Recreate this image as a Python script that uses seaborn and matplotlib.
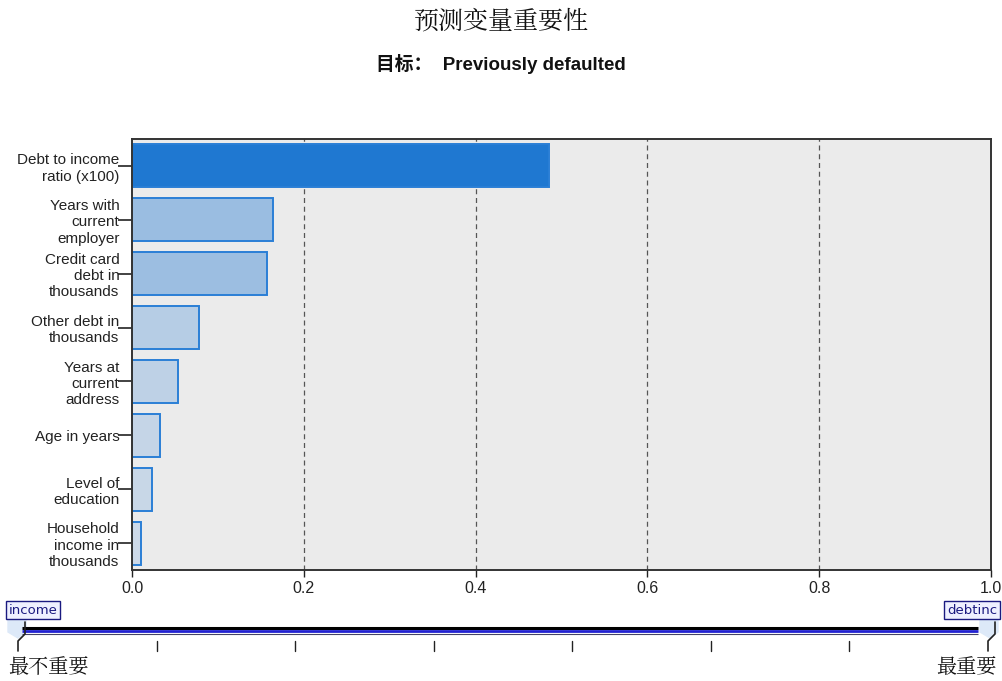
import numpy as np
import pandas as pd
import seaborn as sns
import matplotlib.pyplot as plt
from matplotlib.colors import to_rgb

# Predictor importance values
predictors = ['Debt to income\nratio (x100)', 'Years with\ncurrent\nemployer',
              'Credit card\ndebt in\nthousands', 'Other debt in\nthousands',
              'Years at\ncurrent\naddress', 'Age in years', 'Level of\neducation',
              'Household\nincome in\nthousands']
importance = [0.486, 0.164, 0.157, 0.078, 0.054, 0.033, 0.023, 0.011]
x_ticks = [0.0, 0.2, 0.4, 0.6, 0.8, 1.0]
least_name = 'income'
most_name = 'debtinc'

df = pd.DataFrame({'predictor': predictors, 'importance': importance})

sns.set_style('white')
plt.rcParams['font.family'] = ['Liberation Sans', 'Noto Sans CJK SC', 'DejaVu Sans']

fig = plt.figure(figsize=(10.02, 6.81), dpi=100)
ax = fig.add_axes([132 / 1002, 1 - 570 / 681, 859 / 1002, 431 / 681])

# bar colours: top bar strong blue, others fade with importance
dark = np.array(to_rgb('#1f78d1'))
light = np.array(to_rgb('#d0dbe8'))
mid = np.array(to_rgb('#9abde1'))
colors = []
for i, v in enumerate(importance):
    if i == 0:
        colors.append(dark)
    else:
        t = v / importance[1]
        colors.append(light + (mid - light) * t)

sns.barplot(data=df, y='predictor', x='importance', hue='predictor',
            palette=[tuple(c) for c in colors], legend=False, ax=ax,
            width=0.8, edgecolor='#2a7fd6', linewidth=1.4, orient='h',
            saturation=1)

ax.set_facecolor('#ebebeb')
ax.set_xlim(0, 1.0)
ax.set_ylim(7.5, -0.5)
ax.set_xticks(x_ticks)
ax.set_xticklabels([f'{t:.1f}' for t in x_ticks], fontsize=11.5, color='#222222')
for t in x_ticks[1:-1]:
    ax.axvline(t, color='#555555', linestyle=(0, (4, 3)), linewidth=0.9, zorder=0.5)
ax.set_axisbelow(True)
ax.set_xlabel('')
ax.set_ylabel('')
ax.tick_params(axis='y', length=10, width=1.2, color='#222222', pad=-1,
               labelsize=11, labelcolor='#222222', left=True)
ax.tick_params(axis='x', length=5, width=1, color='#222222', pad=3, bottom=True)
for lab in ax.get_yticklabels():
    lab.set_multialignment('right')
    lab.set_linespacing(1.2)
for s in ax.spines.values():
    s.set_color('#333333')
    s.set_linewidth(1.4)

fig.text(0.5, 1 - 21 / 681, '预测变量重要性', ha='center', va='center',
         fontsize=18, family=['Noto Serif CJK SC', 'Noto Sans CJK SC'], color='#111111')
fig.text(0.5, 1 - 64 / 681, '目标：  Previously defaulted', ha='center', va='center',
         fontsize=13.5, fontweight='bold',
         family=['Liberation Sans', 'Noto Sans CJK SC'], color='#111111')

# importance slider at the bottom
sax = fig.add_axes([0, 0, 1, 1], facecolor='none')
sax.set_xlim(0, 1002)
sax.set_ylim(681, 0)
sax.axis('off')
left_x, right_x = 18, 988
sax.plot([22, 978], [628, 628], color='black', linewidth=2.2, solid_capstyle='butt')
sax.plot([22, 978], [631, 631], color='#2020d0', linewidth=2.0, solid_capstyle='butt')
sax.plot([22, 978], [633.5, 633.5], color='#444466', linewidth=0.8, solid_capstyle='butt')
tick_pos = np.linspace(left_x, right_x, len(predictors))
for xp in tick_pos[1:-1]:
    sax.plot([xp, xp], [641, 651], color='#222222', linewidth=1)
# end markers
sax.plot([left_x, left_x, 25, 25], [651, 641, 634, 622], color='#222222', linewidth=1.2)
sax.plot([right_x, right_x, 995, 995], [651, 641, 634, 622], color='#222222', linewidth=1.2)
sax.fill([8, 26, 26, 18, 8], [620, 620, 632, 638, 632], color='#dde9f8', zorder=0)
sax.fill([980, 998, 998, 990, 980], [620, 620, 632, 638, 632], color='#dde9f8', zorder=0)

box = dict(boxstyle='square,pad=0.2', facecolor='#eef0ff', edgecolor='#1a1a80', linewidth=1)
sax.text(33, 610, least_name, ha='center', va='center', fontsize=9.5,
         family='DejaVu Sans', color='#1a1a80', bbox=box)
sax.text(972, 610, most_name, ha='center', va='center', fontsize=9.5,
         family='DejaVu Sans', color='#1a1a80', bbox=box)
sax.text(8, 668, '最不重要', ha='left', va='center', fontsize=14.5,
         family=['Noto Serif CJK SC', 'Noto Sans CJK SC'], color='#111111')
sax.text(997, 668, '最重要', ha='right', va='center', fontsize=14.5,
         family=['Noto Serif CJK SC', 'Noto Sans CJK SC'], color='#111111')

fig.savefig('out.png', dpi=100)
